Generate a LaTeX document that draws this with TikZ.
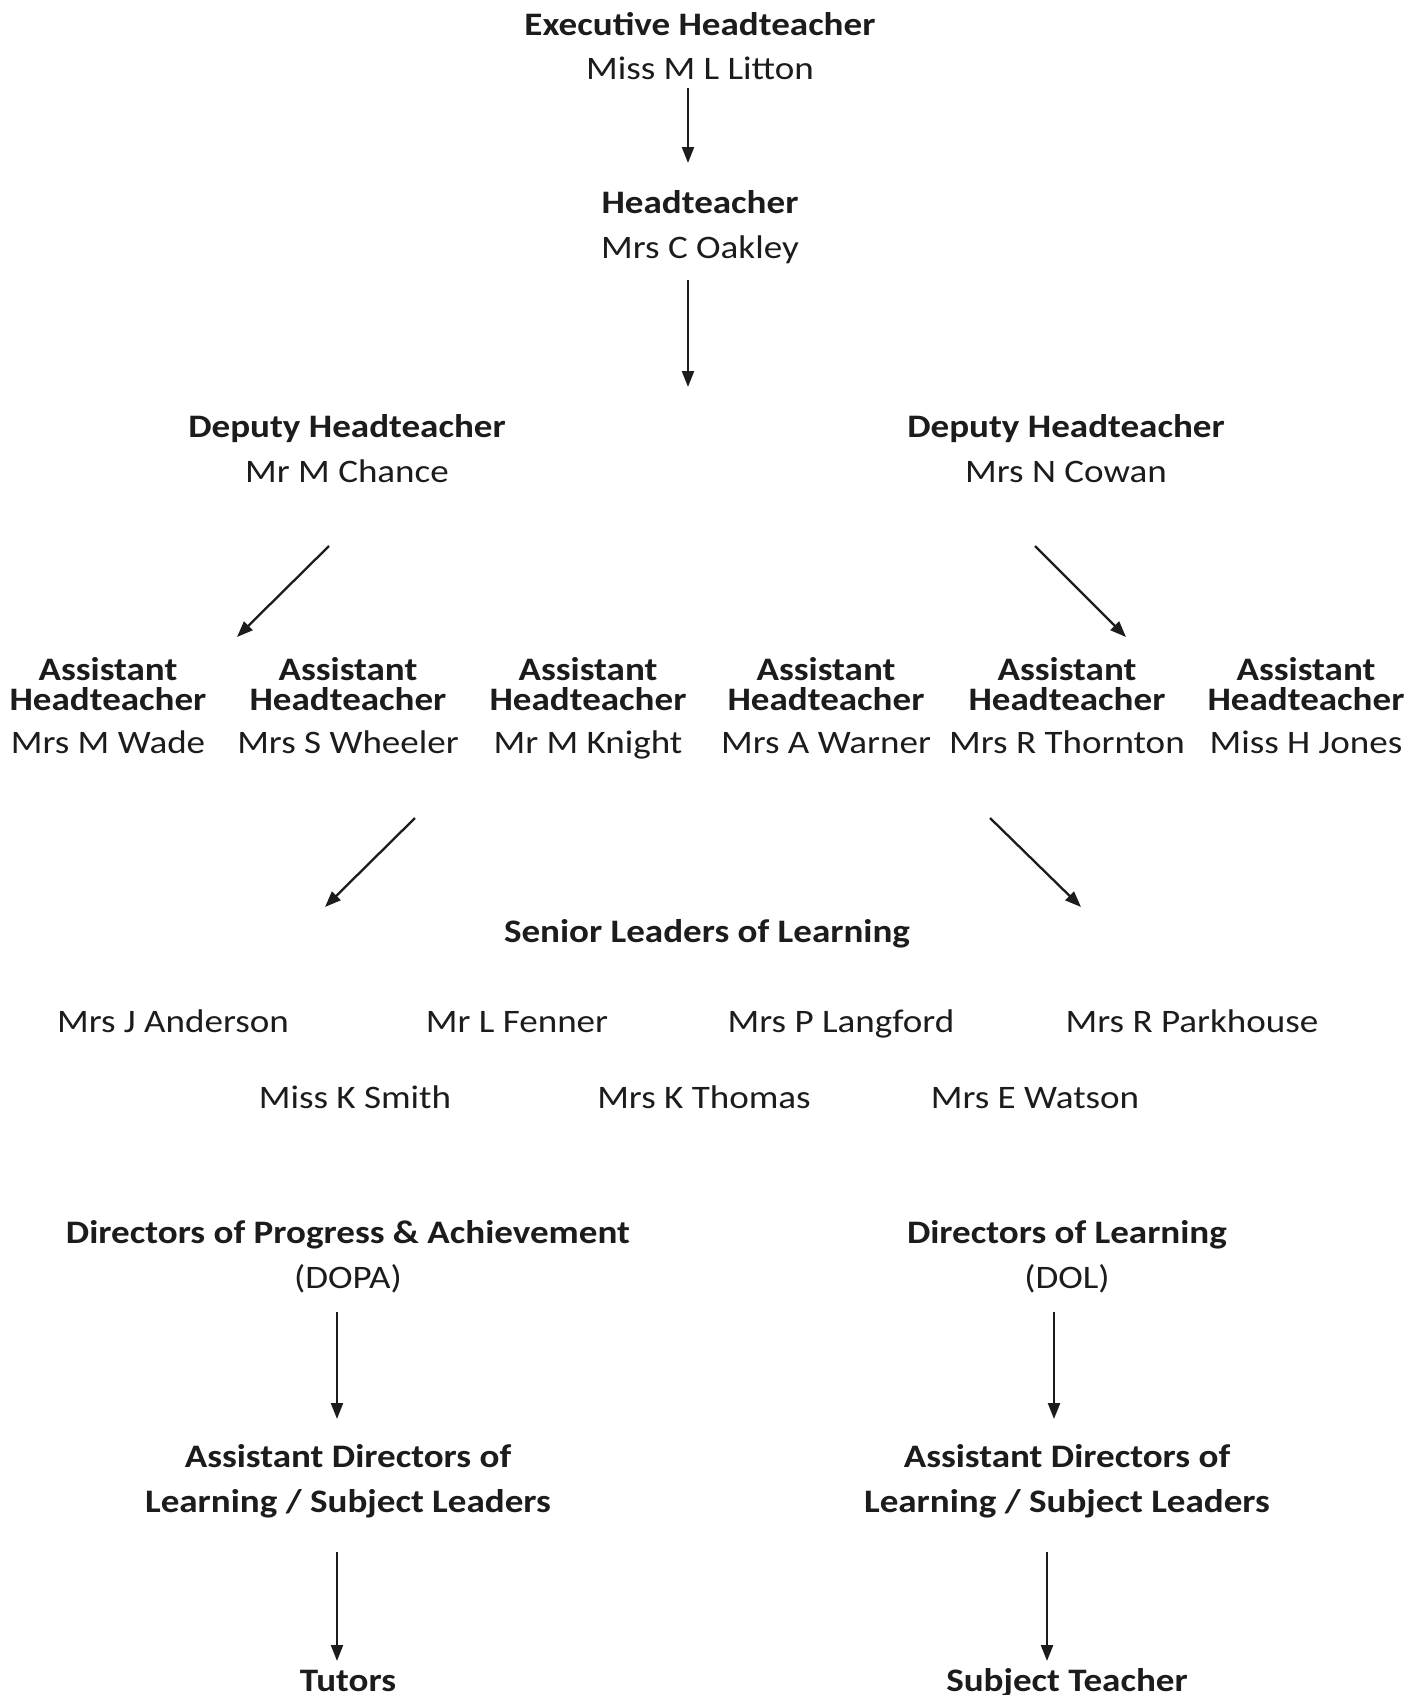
\documentclass[tikz,border=0pt]{standalone}
\usepackage{fontspec}
\setmainfont{Carlito}[FakeStretch=1.13]
\usetikzlibrary{arrows.meta}
\definecolor{ink}{RGB}{30,27,28}
\begin{document}
\begin{tikzpicture}[x=1pt,y=-1pt,
  txt/.style={anchor=base,inner sep=0pt,text=ink,font=\fontsize{32.8}{36}\selectfont},
  bt/.style={anchor=base,inner sep=0pt,text=ink,font=\fontsize{32.8}{36}\selectfont\bfseries},
  arr/.style={draw=ink,line width=2.3pt,-{Triangle[length=16pt,width=12pt]}}]
\useasboundingbox[fill=white] (0,0) rectangle (1422,1695);

% top
\node[bt]  (exec1) at (700,35) {Executive Headteacher};
\node[txt] (exec2) at (700,79) {Miss M L Litton};
\node[bt]  (head1) at (700,213) {Headteacher};
\node[txt] (head2) at (700,258) {Mrs C Oakley};
\coordinate (a1s) at (688,88);  \coordinate (a1e) at (688,163);
\coordinate (a2s) at (688,280); \coordinate (a2e) at (688,387);
\draw[arr] (a1s) -- (a1e);
\draw[arr] (a2s) -- (a2e);

% deputies
\node[bt]  (depL1) at (347,437) {Deputy Headteacher};
\node[txt] (depL2) at (347,482) {Mr M Chance};
\node[bt]  (depR1) at (1066,437) {Deputy Headteacher};
\node[txt] (depR2) at (1066,482) {Mrs N Cowan};
\coordinate (a3s) at (329,546);  \coordinate (a3e) at (237,637);
\coordinate (a4s) at (1035,546); \coordinate (a4e) at (1126,637);
\draw[arr] (a3s) -- (a3e);
\draw[arr] (a4s) -- (a4e);

% assistants
\foreach \n/\x/\name in {1/108/Mrs M Wade,2/348/Mrs S Wheeler,3/588/Mr M Knight,4/826/Mrs A Warner,5/1067/Mrs R Thornton,6/1306/Miss H Jones}{
  \node[bt]  (as\n a) at (\x,680) {Assistant};
  \node[bt]  (as\n b) at (\x,710) {Headteacher};
  \node[txt] (as\n c) at (\x,753) {\name};
}
\coordinate (a5s) at (415,818); \coordinate (a5e) at (325,907);
\coordinate (a6s) at (990,818); \coordinate (a6e) at (1081,907);
\draw[arr] (a5s) -- (a5e);
\draw[arr] (a6s) -- (a6e);

% senior leaders
\node[bt]  (slol) at (707,942) {Senior Leaders of Learning};
\node[txt] (s1) at (173,1032) {Mrs J Anderson};
\node[txt] (s2) at (517,1032) {Mr L Fenner};
\node[txt] (s3) at (841,1032) {Mrs P Langford};
\node[txt] (s4) at (1192,1032) {Mrs R Parkhouse};
\node[txt] (s5) at (355,1108) {Miss K Smith};
\node[txt] (s6) at (704,1108) {Mrs K Thomas};
\node[txt] (s7) at (1035,1108) {Mrs E Watson};

% directors
\node[bt]  (dopa1) at (348,1243) {Directors of Progress \& Achievement};
\node[txt] (dopa2) at (348,1288) {(DOPA)};
\node[bt]  (dol1) at (1067,1243) {Directors of Learning};
\node[txt] (dol2) at (1067,1288) {(DOL)};
\coordinate (a7s) at (337,1312);  \coordinate (a7e) at (337,1419);
\coordinate (a8s) at (1054,1312); \coordinate (a8e) at (1054,1419);
\draw[arr] (a7s) -- (a7e);
\draw[arr] (a8s) -- (a8e);

\node[bt] (adlL1) at (348,1467) {Assistant Directors of};
\node[bt] (adlL2) at (348,1512) {Learning / Subject Leaders};
\node[bt] (adlR1) at (1067,1467) {Assistant Directors of};
\node[bt] (adlR2) at (1067,1512) {Learning / Subject Leaders};
\coordinate (a9s) at (337,1552);   \coordinate (a9e) at (337,1661);
\coordinate (a10s) at (1047,1552); \coordinate (a10e) at (1047,1661);
\draw[arr] (a9s) -- (a9e);
\draw[arr] (a10s) -- (a10e);

\node[bt] (tut) at (348,1691) {Tutors};
\node[bt] (subt) at (1067,1691) {Subject Teacher};
\end{tikzpicture}
\end{document}
